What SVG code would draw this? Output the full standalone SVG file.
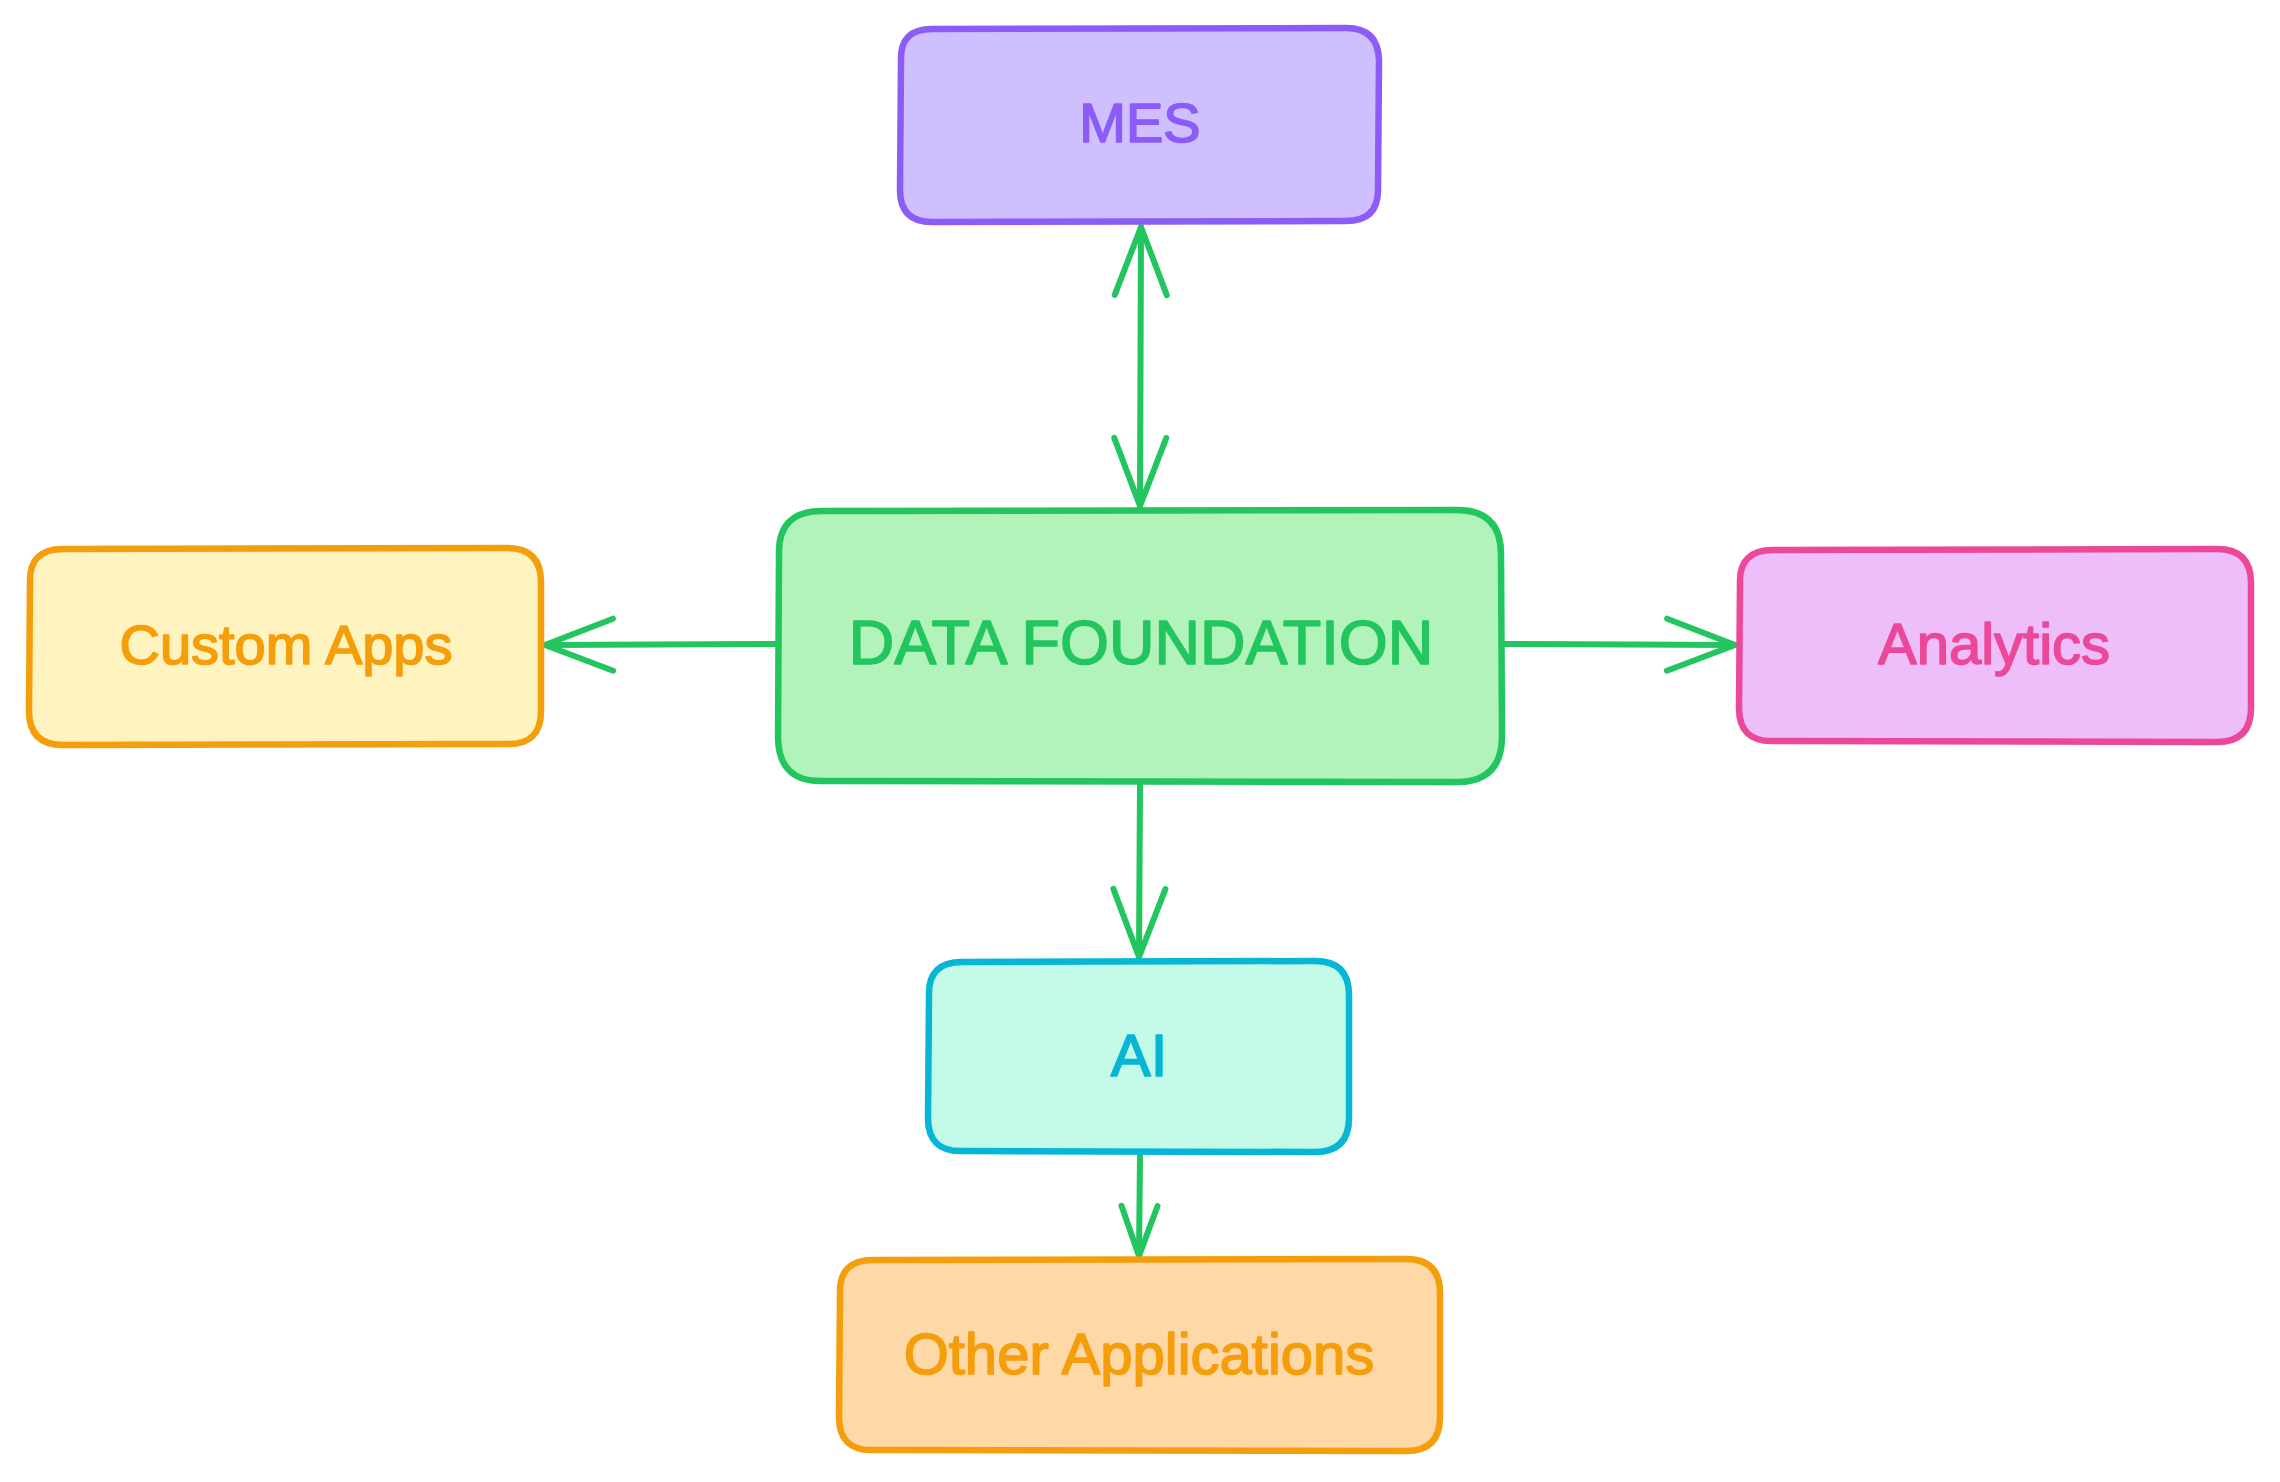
<svg xmlns="http://www.w3.org/2000/svg" width="2280" height="1482" viewBox="0 0 2280 1482">
  <defs>
    <style>
      .box { stroke-width: 6.5; stroke-linejoin: round; stroke-linecap: round; }
      .lbl { font-family: "Liberation Sans", Arial, sans-serif; font-size: 56px; text-anchor: middle; stroke-width: 1.6; stroke-linejoin: round; }
      .edge { fill: none; stroke: #22c55e; stroke-width: 6; stroke-linecap: round; }
      .head { fill: none; stroke: #22c55e; stroke-width: 6; stroke-linecap: round; stroke-linejoin: round; }
    </style>
    <marker id="arrow" markerUnits="userSpaceOnUse" markerWidth="90" markerHeight="70" viewBox="-80 -35 90 70" refX="0" refY="0" orient="auto-start-reverse" overflow="visible">
      <path class="head" d="M -68 -26 L 0 0 L -68 26"/>
    </marker>
    <marker id="arrow-sm" markerUnits="userSpaceOnUse" markerWidth="70" markerHeight="50" viewBox="-60 -25 70 50" refX="0" refY="0" orient="auto-start-reverse" overflow="visible">
      <path class="head" d="M -50 -18 L 0 0 L -50 18"/>
    </marker>
  </defs>
  <rect width="2280" height="1482" fill="#ffffff"/>

  <g id="edges">
    <path id="e-mes-data" class="edge" d="M 1141 227 L 1140 506" marker-start="url(#arrow)" marker-end="url(#arrow)"/>
    <path id="e-data-custom" class="edge" d="M 778 644 L 545 645" marker-end="url(#arrow)"/>
    <path id="e-data-analytics" class="edge" d="M 1502 644 L 1735 645" marker-end="url(#arrow)"/>
    <path id="e-data-ai" class="edge" d="M 1140 783 L 1139 957" marker-end="url(#arrow)"/>
    <path id="e-ai-other" class="edge" d="M 1140 1154 L 1139 1256" marker-end="url(#arrow-sm)"/>
  </g>

  <g id="node-mes">
    <path class="box" fill="#d0bfff" stroke="#8b5cf6" d="M 932 29 L 1346 28 Q 1378 28 1379 60 L 1378 190 Q 1378 221 1346 221 L 932 222 Q 900 222 900 190 L 901 60 Q 900 29 932 29 Z"/>
    <text class="lbl" x="1140" y="142" fill="#8b5cf6" stroke="#8b5cf6">MES</text>
  </g>

  <g id="node-data-foundation">
    <path class="box" fill="#b2f2bb" stroke="#22c55e" d="M 822 511 L 1457 510 Q 1501 510 1501 554 L 1502 738 Q 1501 782 1457 782 L 822 781 Q 779 782 778 738 L 779 554 Q 778 511 822 511 Z"/>
    <text class="lbl" x="1141" y="664" fill="#22c55e" stroke="#22c55e" style="font-size:63px">DATA FOUNDATION</text>
  </g>

  <g id="node-custom-apps">
    <path class="box" fill="#fff3bf" stroke="#f59e0b" d="M 63 549 L 507 548 Q 541 548 541 582 L 541 711 Q 541 745 507 744 L 63 745 Q 29 745 29 711 L 30 582 Q 29 549 63 549 Z"/>
    <text class="lbl" x="286" y="664" fill="#f59e0b" stroke="#f59e0b">Custom Apps</text>
  </g>

  <g id="node-analytics">
    <path class="box" fill="#eebefa" stroke="#ec4899" d="M 1773 550 L 2217 549 Q 2251 549 2251 583 L 2251 708 Q 2251 742 2217 742 L 1773 741 Q 1739 742 1739 708 L 1740 583 Q 1739 550 1773 550 Z"/>
    <text class="lbl" x="1994" y="664" fill="#ec4899" stroke="#ec4899" style="font-size:58px">Analytics</text>
  </g>

  <g id="node-ai">
    <path class="box" fill="#c3fae8" stroke="#06b6d4" d="M 962 962 L 1315 961 Q 1349 961 1349 995 L 1349 1118 Q 1349 1152 1315 1152 L 962 1151 Q 928 1152 928 1118 L 929 995 Q 928 962 962 962 Z"/>
    <text class="lbl" x="1139" y="1076" fill="#06b6d4" stroke="#06b6d4" style="font-size:60px">AI</text>
  </g>

  <g id="node-other-applications">
    <path class="box" fill="#ffd8a8" stroke="#f59e0b" d="M 873 1260 L 1406 1259 Q 1440 1259 1440 1293 L 1440 1417 Q 1440 1451 1406 1451 L 873 1450 Q 839 1451 839 1417 L 840 1293 Q 839 1260 873 1260 Z"/>
    <text class="lbl" x="1139" y="1374" fill="#f59e0b" stroke="#f59e0b" style="font-size:58px">Other Applications</text>
  </g>
</svg>
